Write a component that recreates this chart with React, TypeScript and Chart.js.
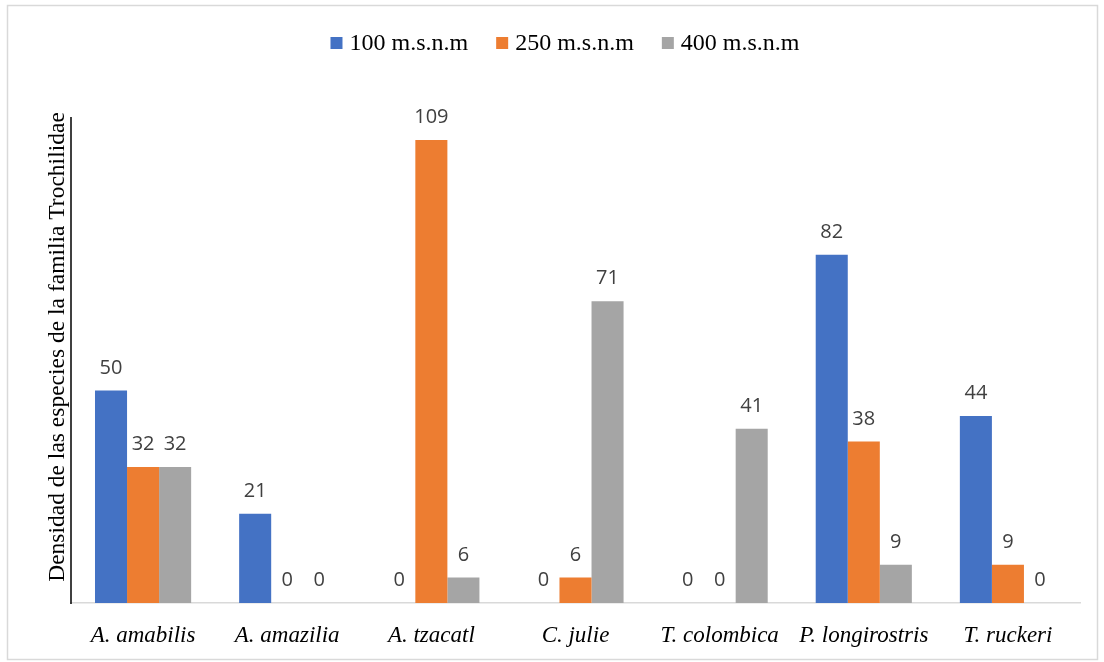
import React, { useEffect, useRef } from "react";
import { Chart, registerables } from "chart.js";

Chart.register(...registerables);

const categories = [
  "A. amabilis",
  "A. amazilia",
  "A. tzacatl",
  "C. julie",
  "T. colombica",
  "P. longirostris",
  "T. ruckeri",
];
const seriesNames = ["100 m.s.n.m", "250 m.s.n.m", "400 m.s.n.m"];
const values100 = [50, 21, 0, 0, 0, 82, 44];
const values250 = [32, 0, 109, 6, 0, 38, 9];
const values400 = [32, 0, 6, 71, 41, 9, 0];
const seriesColors = ["#4472c4", "#ed7d31", "#a5a5a5"];
const yTitle = "Densidad de las especies de la familia Trochilidae";
const Y_MAX = 114.4;

const SERIF = '"Liberation Serif", "Times New Roman", serif';
const SANS = '"Open Sans", "Liberation Sans", sans-serif';

// Frame, legend, y-axis title and the black y-axis rule
const decorPlugin = {
  id: "decor",
  beforeDraw(chart: any) {
    const { ctx } = chart;
    ctx.save();
    ctx.fillStyle = "#ffffff";
    ctx.fillRect(0, 0, chart.width, chart.height);
    ctx.strokeStyle = "#d9d9d9";
    ctx.lineWidth = 1.5;
    ctx.strokeRect(7.5, 5.5, 1090, 654);
    ctx.restore();
  },
  afterDraw(chart: any) {
    const { ctx, chartArea } = chart;
    ctx.save();
    // legend
    ctx.font = `24px ${SERIF}`;
    ctx.textBaseline = "alphabetic";
    const box = 12;
    const gap = 7;
    const spacing = 28;
    const widths = seriesNames.map((n) => ctx.measureText(n).width);
    const total =
      widths.reduce((a, w) => a + box + gap + w, 0) + spacing * (seriesNames.length - 1);
    let x = 565 - total / 2;
    seriesNames.forEach((n, i) => {
      ctx.fillStyle = seriesColors[i];
      ctx.fillRect(x, 37, box, box);
      ctx.fillStyle = "#000000";
      ctx.textAlign = "left";
      ctx.fillText(n, x + box + gap, 50);
      x += box + gap + widths[i] + spacing;
    });
    // y-axis title
    ctx.translate(64, 347);
    ctx.rotate(-Math.PI / 2);
    ctx.font = `23.5px ${SERIF}`;
    ctx.textAlign = "center";
    ctx.fillStyle = "#000000";
    ctx.fillText(yTitle, 0, 0);
    ctx.restore();
    // y-axis rule
    ctx.save();
    ctx.strokeStyle = "#000000";
    ctx.lineWidth = 1.5;
    ctx.beginPath();
    ctx.moveTo(chartArea.left, chartArea.top);
    ctx.lineTo(chartArea.left, chartArea.bottom + 1);
    ctx.stroke();
    ctx.restore();
  },
};

// Value labels above each bar
const valueLabelPlugin = {
  id: "valueLabels",
  afterDatasetsDraw(chart: any) {
    const { ctx } = chart;
    ctx.save();
    ctx.font = `20px ${SANS}`;
    ctx.fillStyle = "#404040";
    ctx.textAlign = "center";
    ctx.textBaseline = "alphabetic";
    chart.data.datasets.forEach((ds: any, di: number) => {
      const meta = chart.getDatasetMeta(di);
      meta.data.forEach((el: any, i: number) => {
        ctx.fillText(String(ds.data[i]), el.x, el.y - 17);
      });
    });
    ctx.restore();
  },
};

export default function App() {
  const canvasRef = useRef<HTMLCanvasElement | null>(null);

  useEffect(() => {
    if (!canvasRef.current) return;
    const chart = new Chart(canvasRef.current, {
      type: "bar",
      data: {
        labels: categories,
        datasets: [values100, values250, values400].map((d, i) => ({
          label: seriesNames[i],
          data: d,
          backgroundColor: seriesColors[i],
          borderWidth: 0,
          barPercentage: 1.0,
          categoryPercentage: 0.667,
        })),
      },
      options: {
        animation: false,
        responsive: false,
        maintainAspectRatio: false,
        layout: { padding: { left: 71, right: 24, top: 117, bottom: 0 } },
        plugins: {
          legend: { display: false },
          tooltip: { enabled: false },
          title: { display: false },
        },
        scales: {
          x: {
            grid: { display: false, drawTicks: false },
            border: { display: true, color: "#d9d9d9", width: 1.5 },
            ticks: {
              color: "#000000",
              font: { family: SERIF, size: 23, style: "italic" },
              padding: 19,
              maxRotation: 0,
              autoSkip: false,
            },
            afterFit(scale: any) {
              scale.height = 59;
            },
          },
          y: {
            display: false,
            min: 0,
            max: Y_MAX,
          },
        },
      },
      plugins: [decorPlugin, valueLabelPlugin],
    });
    return () => chart.destroy();
  }, []);

  return (
    <div style={{ position: "fixed", left: 0, top: 0, width: 1104, height: 662, background: "#fff" }}>
      <canvas ref={canvasRef} width={1104} height={662} style={{ width: 1104, height: 662 }} />
    </div>
  );
}
